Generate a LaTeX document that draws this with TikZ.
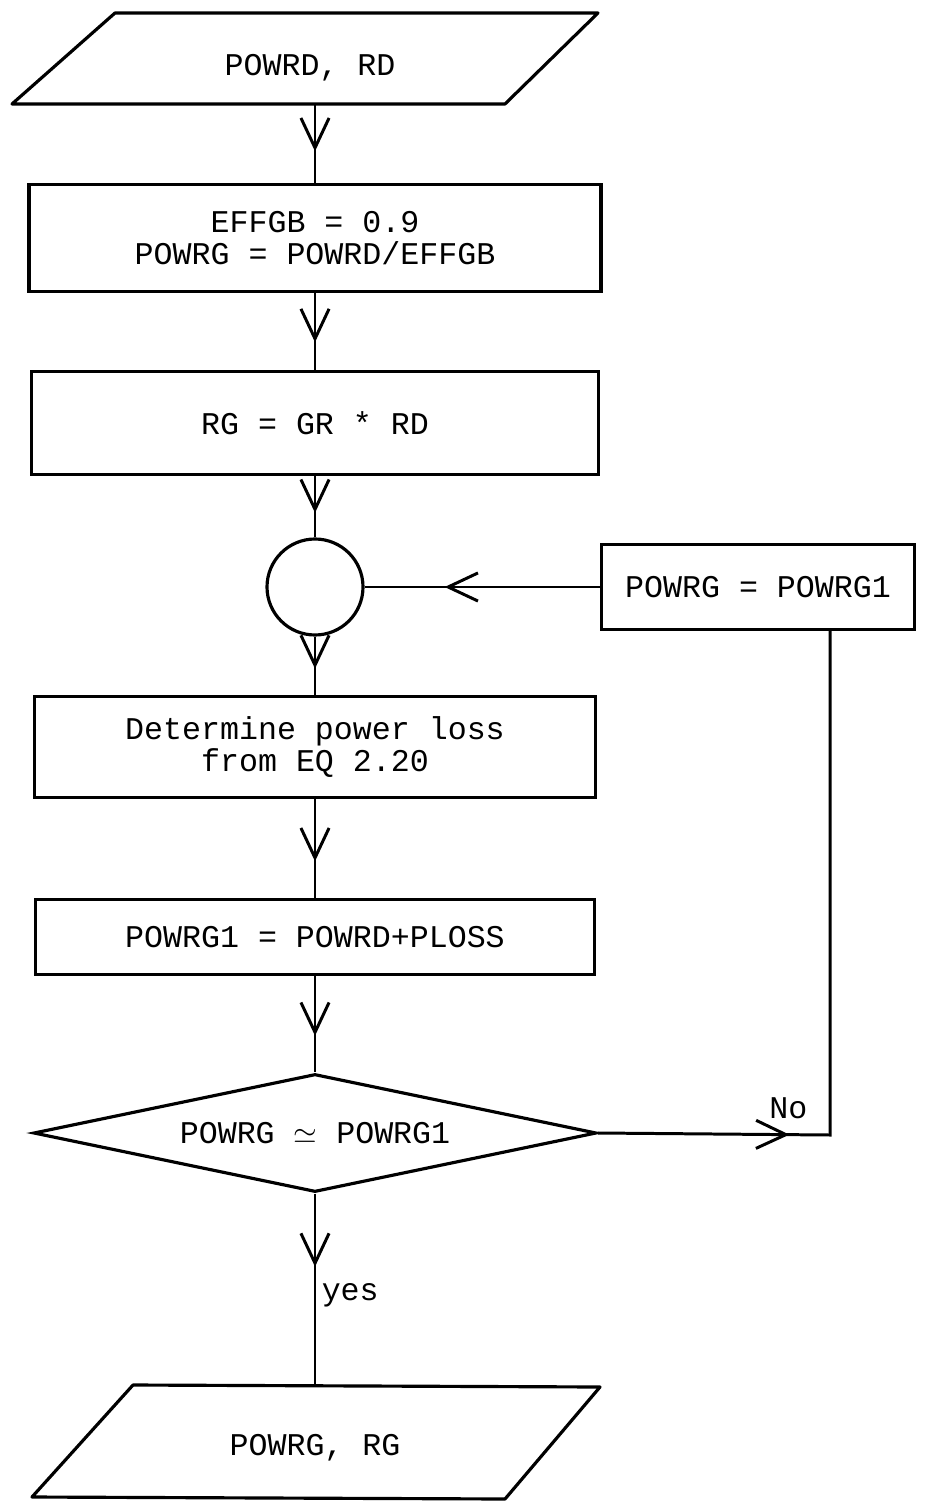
\documentclass[tikz,border=0pt]{standalone}
\usepackage{fontspec}
\setmonofont{Liberation Mono}
\usetikzlibrary{shapes.geometric,arrows.meta,decorations.markings}
\newcommand{\pix}{0.02cm}

\begin{document}
\begin{tikzpicture}[x=0.02cm,y=-0.02cm,
    every node/.style={font=\ttfamily\fontsize{18}{18.5}\selectfont},
    box/.style={draw,rectangle,line width=1.8pt},
    io/.style={line width=1.8pt,line join=round},
    flow/.style={line width=1.7pt,postaction={decorate},
      decoration={markings,mark=at position #1 with
        {\arrow[line width=1.7pt]{Straight Barb[length=17pt,width=16pt]}}}},
    flow/.default=0.6]
  \useasboundingbox (0,0) rectangle (925,1506);

  % input and output parallelograms
  \draw[io] (115,13) -- (598,13) -- (505,104) -- (12,104) -- cycle;
  \node (in) at (310,68) {POWRD, RD};
  \coordinate (in-foot) at (315,104);
  \draw[io] (133,1385) -- (600,1387) -- (505,1499) -- (32,1497) -- cycle;
  \coordinate (out-top) at (315,1386);
  \node (out) at (315,1448) {POWRG, RG};

  \node[box,minimum width=572*\pix,minimum height=107*\pix,align=center] (eff) at (315,238)
       {EFFGB = 0.9\\POWRG = POWRD/EFFGB};
  \node[box,minimum width=567*\pix,minimum height=103*\pix] (rg) at (315,423) {RG = GR * RD};
  \node[draw,circle,line width=1.8pt,minimum size=96*\pix] (join) at (315,587) {};
  \node[box,minimum width=313*\pix,minimum height=85*\pix] (upd) at (758,587) {POWRG = POWRG1};
  \node[box,minimum width=561*\pix,minimum height=101*\pix,align=center] (loss) at (315,747)
       {Determine power loss\\from EQ 2.20};
  \node[box,minimum width=559*\pix,minimum height=75*\pix] (sum) at (315,937) {POWRG1 = POWRD+PLOSS};
  \node[draw,diamond,aspect=4.77,line width=1.8pt,inner sep=0pt,
        minimum width=563*\pix,minimum height=118*\pix] (test) at (315,1133) {POWRG $\simeq$ POWRG1};
  \coordinate (turn) at (830,1135);

  % connectors
  \draw[flow=0.6] (in-foot) -- (eff.north);
  \draw[flow=0.64] (eff.south) -- (rg.north);
  \draw[flow=0.6] (rg.south) -- (join.north);
  \draw[flow=0.66] (upd.west) -- (join.east);
  \draw[flow=0.55] (join.south) -- (loss.north);
  \draw[flow=0.63] (loss.south) -- (sum.north);
  \draw[flow=0.62] (sum.south) -- (test.north);
  \draw[flow=0.38] (test.south) -- node[pos=0.53,anchor=west,inner sep=3pt] {yes} (out-top);
  \draw[flow=0.26] (test.east) -- node[pos=0.82,above=5pt] {No} (turn) -- (turn |- upd.south);
\end{tikzpicture}
\end{document}
